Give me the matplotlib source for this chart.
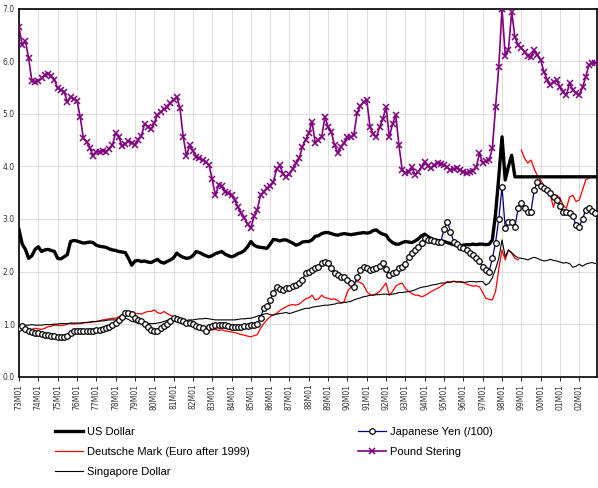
import numpy as np
import matplotlib
matplotlib.use("Agg")
import matplotlib.pyplot as plt

# category axis: monthly, 73M01 .. 02M12, labelled every January
years = list(range(1973, 2003))
year_labels = ["%02dM01" % (y % 100) for y in years]

# readings taken every two months (Jan, Mar, May, Jul, Sep, Nov), one row per year
us_dollar = [
    [2.80, 2.52, 2.42, 2.25, 2.30, 2.42],
    [2.47, 2.38, 2.41, 2.42, 2.40, 2.38],
    [2.25, 2.24, 2.28, 2.32, 2.57, 2.59],
    [2.58, 2.56, 2.54, 2.55, 2.56, 2.55],
    [2.50, 2.48, 2.47, 2.46, 2.43, 2.41],
    [2.40, 2.38, 2.37, 2.36, 2.25, 2.12],
    [2.20, 2.21, 2.19, 2.20, 2.18, 2.17],
    [2.20, 2.23, 2.18, 2.16, 2.19, 2.22],
    [2.26, 2.35, 2.30, 2.27, 2.25, 2.26],
    [2.30, 2.38, 2.36, 2.33, 2.30, 2.28],
    [2.30, 2.34, 2.36, 2.38, 2.33, 2.30],
    [2.28, 2.30, 2.34, 2.36, 2.40, 2.47],
    [2.57, 2.50, 2.47, 2.46, 2.45, 2.44],
    [2.52, 2.61, 2.60, 2.58, 2.60, 2.60],
    [2.57, 2.54, 2.50, 2.52, 2.56, 2.57],
    [2.57, 2.60, 2.67, 2.68, 2.72, 2.74],
    [2.74, 2.72, 2.70, 2.69, 2.71, 2.72],
    [2.71, 2.70, 2.71, 2.72, 2.73, 2.74],
    [2.73, 2.74, 2.78, 2.79, 2.74, 2.71],
    [2.69, 2.60, 2.55, 2.52, 2.52, 2.55],
    [2.57, 2.56, 2.55, 2.58, 2.62, 2.68],
    [2.71, 2.66, 2.63, 2.60, 2.59, 2.58],
    [2.57, 2.55, 2.53, 2.51, 2.50, 2.49],
    [2.50, 2.51, 2.51, 2.52, 2.51, 2.52],
    [2.52, 2.51, 2.52, 2.60, 3.10, 3.80],
    [4.56, 3.74, 4.00, 4.21, 3.80, 3.80],
    [3.80, 3.80, 3.80, 3.80, 3.80, 3.80],
    [3.80, 3.80, 3.80, 3.80, 3.80, 3.80],
    [3.80, 3.80, 3.80, 3.80, 3.80, 3.80],
    [3.80, 3.80, 3.80, 3.80, 3.80, 3.80],
]

yen = [
    [0.92, 0.97, 0.90, 0.86, 0.85, 0.84],
    [0.83, 0.82, 0.80, 0.79, 0.78, 0.77],
    [0.76, 0.76, 0.76, 0.77, 0.84, 0.86],
    [0.86, 0.86, 0.86, 0.86, 0.86, 0.87],
    [0.88, 0.89, 0.90, 0.92, 0.95, 0.98],
    [1.02, 1.08, 1.14, 1.22, 1.21, 1.20],
    [1.11, 1.08, 1.05, 1.00, 0.95, 0.89],
    [0.87, 0.86, 0.92, 0.96, 1.01, 1.05],
    [1.11, 1.09, 1.07, 1.05, 1.03, 1.02],
    [1.00, 0.97, 0.95, 0.92, 0.86, 0.95],
    [0.96, 0.98, 0.98, 0.98, 0.98, 0.97],
    [0.95, 0.95, 0.95, 0.95, 0.96, 0.96],
    [0.98, 0.98, 1.01, 1.11, 1.30, 1.35],
    [1.45, 1.60, 1.71, 1.66, 1.65, 1.68],
    [1.68, 1.72, 1.74, 1.78, 1.84, 1.97],
    [2.00, 2.03, 2.06, 2.08, 2.16, 2.19],
    [2.17, 2.06, 1.98, 1.93, 1.90, 1.90],
    [1.84, 1.78, 1.71, 1.90, 2.03, 2.09],
    [2.06, 2.03, 2.05, 2.06, 2.10, 2.17],
    [2.05, 1.93, 1.97, 2.00, 2.06, 2.09],
    [2.15, 2.28, 2.36, 2.41, 2.47, 2.55],
    [2.64, 2.60, 2.60, 2.58, 2.57, 2.57],
    [2.80, 2.95, 2.76, 2.57, 2.52, 2.47],
    [2.44, 2.40, 2.36, 2.31, 2.25, 2.20],
    [2.08, 2.02, 2.00, 2.25, 2.55, 3.00],
    [3.61, 2.82, 2.95, 2.95, 2.85, 3.20],
    [3.30, 3.20, 3.14, 3.14, 3.55, 3.71],
    [3.62, 3.58, 3.55, 3.49, 3.42, 3.36],
    [3.25, 3.14, 3.14, 3.11, 3.05, 2.88],
    [2.85, 3.00, 3.17, 3.20, 3.15, 3.11],
]

# Deutsche Mark 73-98, then the Euro from 1999
deutsche_mark = [
    [0.95, 0.93, 0.90, 0.89, 0.90, 0.92],
    [0.91, 0.90, 0.92, 0.95, 0.96, 0.98],
    [0.98, 0.97, 0.98, 1.00, 1.01, 1.00],
    [1.01, 1.01, 1.02, 1.03, 1.03, 1.04],
    [1.05, 1.06, 1.08, 1.09, 1.10, 1.11],
    [1.11, 1.14, 1.17, 1.20, 1.20, 1.19],
    [1.20, 1.20, 1.19, 1.22, 1.24, 1.24],
    [1.27, 1.22, 1.20, 1.24, 1.20, 1.17],
    [1.14, 1.10, 1.06, 1.04, 1.01, 0.98],
    [0.96, 0.94, 0.92, 0.93, 0.91, 0.90],
    [0.89, 0.90, 0.88, 0.89, 0.87, 0.86],
    [0.85, 0.84, 0.82, 0.80, 0.79, 0.77],
    [0.76, 0.78, 0.80, 0.92, 1.01, 1.08],
    [1.14, 1.18, 1.20, 1.26, 1.30, 1.33],
    [1.36, 1.37, 1.36, 1.38, 1.43, 1.48],
    [1.50, 1.55, 1.46, 1.48, 1.55, 1.50],
    [1.49, 1.47, 1.48, 1.45, 1.40, 1.43],
    [1.62, 1.70, 1.78, 1.81, 1.79, 1.75],
    [1.62, 1.56, 1.55, 1.58, 1.62, 1.70],
    [1.78, 1.55, 1.62, 1.72, 1.76, 1.78],
    [1.68, 1.62, 1.58, 1.55, 1.55, 1.52],
    [1.54, 1.58, 1.62, 1.65, 1.68, 1.72],
    [1.76, 1.81, 1.79, 1.82, 1.80, 1.81],
    [1.80, 1.76, 1.74, 1.72, 1.73, 1.71],
    [1.60, 1.49, 1.47, 1.46, 1.62, 2.05],
    [2.41, 2.22, 2.41, 2.35, 2.25, 2.22],
]
euro = [
    [4.31, 4.15, 4.06, 4.12, 3.95, 3.82],
    [3.74, 3.62, 3.55, 3.45, 3.22, 3.45],
    [3.40, 3.26, 3.20, 3.42, 3.45, 3.33],
    [3.36, 3.55, 3.74, 3.78, 3.80, 3.80],
]

pound = [
    [6.65, 6.30, 6.38, 6.05, 5.62, 5.61],
    [5.63, 5.67, 5.74, 5.76, 5.72, 5.65],
    [5.48, 5.45, 5.42, 5.22, 5.32, 5.28],
    [5.25, 4.94, 4.53, 4.47, 4.35, 4.20],
    [4.28, 4.28, 4.30, 4.28, 4.33, 4.40],
    [4.63, 4.56, 4.38, 4.42, 4.48, 4.45],
    [4.40, 4.50, 4.58, 4.80, 4.75, 4.70],
    [4.82, 4.98, 5.03, 5.08, 5.12, 5.20],
    [5.26, 5.32, 5.10, 4.56, 4.20, 4.40],
    [4.30, 4.18, 4.15, 4.12, 4.08, 4.03],
    [3.75, 3.45, 3.64, 3.62, 3.52, 3.50],
    [3.45, 3.36, 3.22, 3.12, 3.02, 2.90],
    [2.82, 3.05, 3.17, 3.45, 3.52, 3.58],
    [3.62, 3.70, 3.95, 4.02, 3.85, 3.80],
    [3.85, 3.95, 4.06, 4.15, 4.37, 4.50],
    [4.63, 4.85, 4.44, 4.50, 4.56, 4.94],
    [4.75, 4.65, 4.40, 4.25, 4.37, 4.45],
    [4.55, 4.56, 4.60, 5.01, 5.15, 5.22],
    [5.26, 4.75, 4.62, 4.56, 4.75, 4.90],
    [5.13, 4.56, 4.80, 4.98, 4.40, 3.93],
    [3.87, 3.90, 3.99, 3.83, 3.90, 3.99],
    [4.09, 4.00, 3.96, 4.02, 4.06, 4.04],
    [4.02, 3.98, 3.93, 3.95, 3.97, 3.93],
    [3.90, 3.87, 3.90, 3.92, 3.98, 4.25],
    [4.06, 4.10, 4.12, 4.34, 5.13, 5.89],
    [7.00, 6.10, 6.21, 6.94, 6.46, 6.31],
    [6.25, 6.18, 6.10, 6.08, 6.21, 6.12],
    [6.02, 5.80, 5.65, 5.55, 5.60, 5.64],
    [5.50, 5.42, 5.36, 5.58, 5.45, 5.39],
    [5.36, 5.50, 5.70, 5.93, 5.96, 5.96],
]

singapore_dollar = [
    [0.98, 0.98, 0.98, 0.98, 0.99, 0.98],
    [0.98, 0.98, 0.99, 0.99, 0.99, 1.00],
    [1.00, 1.01, 1.01, 1.01, 1.02, 1.02],
    [1.02, 1.02, 1.03, 1.03, 1.04, 1.05],
    [1.05, 1.06, 1.06, 1.07, 1.08, 1.08],
    [1.08, 1.09, 1.10, 1.11, 1.09, 1.05],
    [1.04, 1.02, 1.01, 1.01, 1.01, 1.01],
    [1.01, 1.02, 1.03, 1.05, 1.07, 1.08],
    [1.08, 1.09, 1.08, 1.08, 1.07, 1.08],
    [1.08, 1.09, 1.10, 1.10, 1.11, 1.10],
    [1.09, 1.08, 1.08, 1.08, 1.08, 1.08],
    [1.08, 1.08, 1.09, 1.10, 1.10, 1.11],
    [1.11, 1.13, 1.15, 1.17, 1.19, 1.20],
    [1.18, 1.17, 1.19, 1.20, 1.21, 1.22],
    [1.20, 1.22, 1.24, 1.26, 1.28, 1.30],
    [1.30, 1.32, 1.33, 1.34, 1.35, 1.36],
    [1.36, 1.37, 1.38, 1.40, 1.40, 1.41],
    [1.42, 1.43, 1.46, 1.48, 1.50, 1.52],
    [1.53, 1.55, 1.55, 1.56, 1.56, 1.57],
    [1.57, 1.56, 1.57, 1.58, 1.60, 1.60],
    [1.61, 1.62, 1.63, 1.65, 1.68, 1.70],
    [1.71, 1.72, 1.74, 1.75, 1.76, 1.78],
    [1.78, 1.79, 1.80, 1.81, 1.80, 1.80],
    [1.79, 1.80, 1.81, 1.81, 1.80, 1.81],
    [1.81, 1.74, 1.78, 1.88, 2.05, 2.25],
    [2.60, 2.28, 2.41, 2.36, 2.30, 2.26],
    [2.25, 2.24, 2.22, 2.25, 2.27, 2.25],
    [2.22, 2.20, 2.21, 2.23, 2.21, 2.20],
    [2.18, 2.16, 2.17, 2.15, 2.08, 2.10],
    [2.14, 2.10, 2.14, 2.16, 2.17, 2.15],
]

months = np.arange(0, 12 * len(years), 2)
n_dm = 6 * len(deutsche_mark)

fig = plt.figure(figsize=(5.98, 4.88), dpi=100)
ax = fig.add_axes([19 / 598, (488 - 376.7) / 488, 578 / 598, 368.2 / 488])
plt.rcParams['font.family'] = ['Liberation Sans', 'DejaVu Sans']

l_us, = ax.plot(months, np.ravel(us_dollar), color='black', lw=2.4, zorder=3)
l_dm, = ax.plot(months[:n_dm], np.ravel(deutsche_mark), color='#ff0000', lw=0.9, zorder=2)
ax.plot(months[n_dm:], np.ravel(euro), color='#ff0000', lw=0.9, zorder=2)
l_sg, = ax.plot(months, np.ravel(singapore_dollar), color='black', lw=0.8, zorder=2)
l_jp, = ax.plot(months, np.ravel(yen), color='#000080', lw=0.9, marker='o', ms=4,
                mfc='white', mec='black', mew=0.9, zorder=4)
l_gb, = ax.plot(months, np.ravel(pound), color='#800080', lw=1.2, marker='x', ms=4,
                mew=1.1, zorder=5)

ax.set_xlim(0, 12 * len(years) - 1)
ax.set_ylim(0, 7)
ax.set_xticks(np.arange(0, 12 * len(years), 12))
ax.set_xticklabels(year_labels, rotation=90, fontsize=5.5, color='#333333',
                   family='DejaVu Sans')
ax.set_yticks(np.arange(0, 8, 1))
ax.set_yticklabels(["%.1f" % v for v in range(8)], fontsize=5.5, color='#333333',
                   family='DejaVu Sans')
ax.tick_params(axis='x', length=3, width=0.6, pad=2)
ax.tick_params(axis='y', length=0, pad=3)
ax.grid(True, color='#dcdcdc', lw=0.7)
ax.set_axisbelow(True)
for s in ax.spines.values():
    s.set_color('black')
    s.set_linewidth(1.2)

leg_kw = dict(frameon=False, fontsize=8, handlelength=2.5, handletextpad=0.4,
              labelspacing=0.9, borderpad=0, borderaxespad=0)
fig.legend([l_us, l_dm, l_sg],
           ["US Dollar", "Deutsche Mark (Euro after 1999)", "Singapore Dollar"],
           loc='upper left', bbox_to_anchor=(55 / 598, 1 - 427 / 488), **leg_kw)
fig.legend([l_jp, l_gb],
           ["Japanese Yen (/100)", "Pound Stering"],
           loc='upper left', bbox_to_anchor=(358 / 598, 1 - 427 / 488), **leg_kw)

fig.savefig("out.png", dpi=100)
